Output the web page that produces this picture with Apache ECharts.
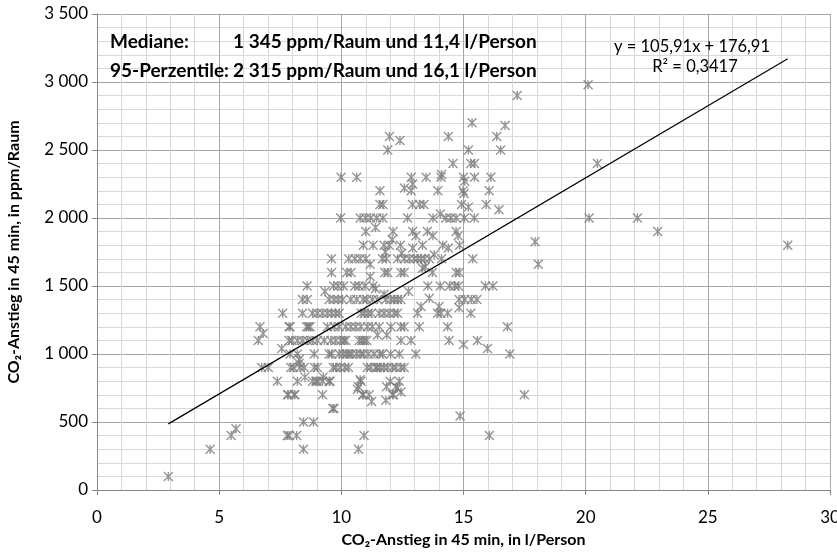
<!DOCTYPE html>
<html>
<head>
<meta charset="utf-8">
<script src="https://cdn.jsdelivr.net/npm/echarts@6/dist/echarts.min.js"></script>
<style>
  html, body { margin: 0; padding: 0; background: #fff; }
  #chart { width: 837px; height: 553px; }
</style>
</head>
<body>
<div id="chart"></div>
<script>
// CO2 rise per room (ppm) levels and the per-person rise (l) values measured at each level
const ppmLevels = [
  2980, 2900, 2700, 2680, 2600, 2570, 2500, 2400, 2320, 2300, 2270, 2250, 2220, 2200, 2180,
  2100, 2080, 2060, 2030, 2000, 1930, 1900, 1870, 1840, 1826, 1800, 1780, 1750, 1740, 1730,
  1700, 1660, 1640, 1630, 1600, 1570, 1500, 1480, 1460, 1440, 1410, 1400, 1350, 1340, 1300,
  1200, 1150, 1140, 1100, 1070, 1040, 1000, 960, 930, 900, 830, 810, 800, 760, 750, 740,
  720, 700, 660, 650, 600, 544, 500, 450, 400, 300, 100
];
const litersAtLevel = [
  [20.1], [17.2], [15.35], [16.7], [11.97, 14.38, 16.36], [12.4], [11.9, 15.2, 16.52],
  [14.57, 15.3, 15.45, 20.48], [14.1], [9.99, 10.63, 12.86, 13.47, 14.08, 15.0, 15.45, 16.12],
  [15.05], [12.92], [12.58], [11.58, 12.86, 13.95, 14.98, 16.05], [15.02],
  [11.58, 11.7, 12.91, 13.2, 13.38, 14.92, 15.93], [15.2], [16.45], [14.05],
  [9.97, 10.77, 11.0, 11.2, 11.45, 11.7, 12.71, 13.75, 14.28, 14.48, 14.7, 15.04, 15.44, 20.14, 22.12],
  [11.4], [11.0, 12.12, 12.92, 13.52, 14.7, 22.95], [13.05, 13.75, 14.78], [12.08], [17.93],
  [10.9, 11.3, 11.75, 11.96, 12.42, 13.32, 14.15, 14.84, 28.27], [12.92, 14.38], [11.8], [12.47], [13.8],
  [9.6, 10.3, 10.55, 10.77, 11.0, 11.68, 11.84, 12.3, 12.57, 12.78, 12.98, 13.12, 13.26, 13.4, 13.6, 14.1, 15.38],
  [11.18, 18.06], [13.43], [13.32],
  [9.6, 10.22, 10.4, 11.78, 11.9, 12.44, 12.57, 13.73, 14.7, 14.82], [11.18],
  [8.6, 9.68, 9.87, 10.09, 10.55, 10.73, 10.97, 11.3, 13.54, 14.05, 14.43, 14.65, 14.79, 15.9, 16.2],
  [11.4], [9.33, 12.75], [11.75], [13.6],
  [8.41, 8.61, 9.5, 9.7, 9.87, 10.05, 10.39, 10.63, 10.9, 11.04, 11.27, 11.48, 11.82, 12.03, 12.17, 12.3, 12.44, 14.82, 15.05, 15.32, 15.55],
  [13.26, 14.0], [14.82],
  [7.6, 8.41, 8.82, 9.02, 9.23, 9.43, 9.6, 9.77, 9.91, 10.82, 10.95, 11.1, 11.23, 11.55, 11.75, 11.96, 12.17, 12.3, 13.12, 13.94, 14.07, 14.35, 15.3],
  [6.67, 7.86, 7.9, 8.58, 8.65, 8.72, 9.43, 9.7, 9.91, 10.18, 10.39, 10.59, 10.8, 11.07, 11.27, 11.55, 12.03, 12.44, 12.57, 13.19, 14.35, 16.8],
  [6.8], [11.48, 11.86],
  [6.6, 7.86, 7.97, 8.2, 8.41, 8.61, 8.82, 9.02, 9.3, 9.57, 9.77, 9.98, 10.1, 10.18, 10.73, 10.84, 10.94, 11.04, 12.44, 12.85, 14.41, 15.57],
  [15.0], [7.56, 15.98],
  [7.9, 8.2, 8.89, 9.5, 9.6, 9.91, 10.08, 10.22, 10.32, 10.43, 10.63, 10.8, 10.9, 11.1, 11.34, 11.58, 11.69, 12.02, 12.37, 13.05, 16.9],
  [8.28], [8.27],
  [6.74, 7.01, 7.93, 8.04, 8.31, 8.48, 8.9, 9.02, 9.67, 9.77, 9.95, 10.15, 10.29, 11.06, 11.2, 11.41, 11.47, 11.6, 11.74, 11.89, 12.1, 12.23, 12.44, 12.57],
  [8.51, 9.26], [10.77],
  [7.38, 8.2, 8.82, 8.96, 9.02, 9.23, 9.5, 9.54, 10.8, 12.0, 12.37],
  [10.7, 11.85, 12.23], [12.3], [10.66], [12.44],
  [7.8, 7.83, 8.07, 8.1, 9.23, 10.87, 10.9, 11.14, 12.1, 12.13, 17.49],
  [11.82], [11.24], [9.65, 9.7], [14.86], [8.45, 8.86], [5.69],
  [5.49, 7.79, 7.86, 8.17, 10.93, 16.06], [4.63, 8.45, 10.7], [2.92]
];

// Linear trend reported for the sample
const trendSlope = 105.91;
const trendIntercept = 176.91;
const trendLabel = 'y = 105,91x + 176,91';
const r2Label = 'R² = 0,3417';

// Summary statistics printed in the corner
const medianLabel = 'Mediane:';
const medianValues = '1 345 ppm/Raum und 11,4 l/Person';
const percentileLabel = '95-Perzentile:';
const percentileValues = '2 315 ppm/Raum und 16,1 l/Person';

const xTitle = 'CO₂-Anstieg in 45 min, in l/Person';
const yTitle = 'CO₂-Anstieg in 45 min, in ppm/Raum';

const points = [];
ppmLevels.forEach(function (ppm, i) {
  litersAtLevel[i].forEach(function (l) { points.push([l, ppm]); });
});
const xs = points.map(function (p) { return p[0]; });
const xMin = Math.min.apply(null, xs);
const xMax = Math.max.apply(null, xs);
const trendPoints = [
  [xMin, trendSlope * xMin + trendIntercept],
  [xMax, trendSlope * xMax + trendIntercept]
];

const FONT = 'Lato, "Open Sans", sans-serif';
const thousands = function (v) {
  return String(v).replace(/\B(?=(\d{3})+(?!\d))/g, ' ');
};

const chart = echarts.init(document.getElementById('chart'), null, { renderer: 'canvas' });
chart.setOption({
  animation: false,
  backgroundColor: '#ffffff',
  grid: { left: 97, right: 7, top: 14, bottom: 63, containLabel: false, outerBoundsMode: 'none' },
  xAxis: {
    type: 'value', min: 0, max: 30, interval: 5,
    axisLine: { show: true, onZero: false, lineStyle: { color: '#868686', width: 1 } },
    axisTick: { show: true, length: 5, lineStyle: { color: '#868686' } },
    axisLabel: { fontFamily: FONT, fontSize: 17, color: '#000', margin: 19 },
    splitLine: { show: true, lineStyle: { color: '#a6a6a6', width: 1 } },
    minorTick: { show: false, splitNumber: 5 },
    minorSplitLine: { show: true, lineStyle: { color: '#d9d9d9', width: 1 } },
    name: xTitle, nameLocation: 'middle', nameGap: 42,
    nameTextStyle: { fontFamily: FONT, fontSize: 16, fontWeight: 'bold', color: '#000' }
  },
  yAxis: {
    type: 'value', min: 0, max: 3500, interval: 500,
    axisLine: { show: true, onZero: false, lineStyle: { color: '#868686', width: 1 } },
    axisTick: { show: true, length: 5, lineStyle: { color: '#868686' } },
    axisLabel: { fontFamily: FONT, fontSize: 17, color: '#000', margin: 9, formatter: thousands },
    splitLine: { show: true, lineStyle: { color: '#a6a6a6', width: 1 } },
    minorTick: { show: false, splitNumber: 5 },
    minorSplitLine: { show: true, lineStyle: { color: '#d9d9d9', width: 1 } },
    name: yTitle, nameLocation: 'middle', nameGap: 75, nameRotate: 90,
    nameTextStyle: { fontFamily: FONT, fontSize: 16, fontWeight: 'bold', color: '#000' }
  },
  series: [
    {
      type: 'scatter',
      data: points,
      symbol: 'path://M0,0L8,8M8,0L0,8M4,0L4,8',
      symbolSize: 9,
      itemStyle: { color: 'rgba(0,0,0,0)', borderColor: '#7a7a7a', borderWidth: 1.4 },
      emphasis: { disabled: true },
      z: 3
    },
    {
      type: 'line',
      data: trendPoints,
      symbol: 'none',
      lineStyle: { color: '#000', width: 1.2 },
      emphasis: { disabled: true },
      z: 4
    }
  ],
  graphic: [
    { type: 'text', z: 100, left: 110, top: 32, style: { text: medianLabel, font: 'bold 19px ' + FONT, fill: '#000' } },
    { type: 'text', z: 100, left: 233, top: 32, style: { text: medianValues, font: 'bold 19px ' + FONT, fill: '#000' } },
    { type: 'text', z: 100, left: 110, top: 61, style: { text: percentileLabel, font: 'bold 19px ' + FONT, fill: '#000' } },
    { type: 'text', z: 100, left: 233, top: 61, style: { text: percentileValues, font: 'bold 19px ' + FONT, fill: '#000' } },
    { type: 'text', z: 100, x: 692, y: 47, style: { text: trendLabel, font: '16.5px ' + FONT, fill: '#000', textAlign: 'center', textVerticalAlign: 'middle' } },
    { type: 'text', z: 100, x: 695, y: 67, style: { text: r2Label, font: '16.5px ' + FONT, fill: '#000', textAlign: 'center', textVerticalAlign: 'middle' } }
  ]
});
</script>
</body>
</html>
